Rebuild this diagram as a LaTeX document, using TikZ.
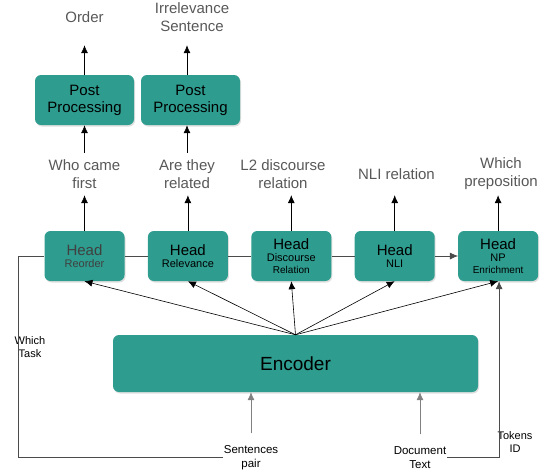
\documentclass[tikz,border=0pt]{standalone}
\usepackage{fontspec}
\setmainfont{Liberation Sans}
\usetikzlibrary{arrows.meta,shadows}
\definecolor{boxteal}{RGB}{46,156,142}
\definecolor{labelgray}{RGB}{88,88,88}
\definecolor{linegray}{RGB}{75,75,75}
\newcommand{\headlbl}[1]{\fontsize{15}{16}\selectfont Head\\\fontsize{11}{13}\selectfont #1}
\begin{document}
\begin{tikzpicture}[x=1pt,y=1pt,
  box/.style={shape=rectangle,rounded corners=6pt,fill=boxteal,drop shadow={shadow xshift=1pt,shadow yshift=-1.5pt,opacity=0.25}},
  head/.style={box,minimum width=80pt,minimum height=50pt,align=center,inner sep=1pt},
  post/.style={box,minimum width=99pt,minimum height=50pt,align=center,font=\fontsize{15}{17}\selectfont},
  outlbl/.style={text=labelgray,align=center,font=\fontsize{15}{18}\selectfont,minimum height=42pt,inner sep=0pt},
  toplbl/.style={outlbl,minimum height=56pt},
  small/.style={align=center,font=\fontsize{11.5}{14}\selectfont,inner sep=1pt},
  arr/.style={line width=0.6pt,-{Latex[length=8pt,width=7pt]}},
  garr/.style={arr,draw=gray,fill=gray},
  busline/.style={draw=linegray,line width=0.6pt}]
\def\hx{84.5};
\def\dx{103.4};
\def\yh{-256};
\def\yo{-174};
\def\yp{-100};
\def\yt{-17};
\def\yb{-457.5};

\useasboundingbox (0,0) rectangle (546,-472);

\node[head,text=black!75] (reorder) at (\hx,\yh) {\headlbl{Reorder}};
\node[head] (relev) at (\hx+\dx,\yh) {\headlbl{Relevance}};
\node[head] (disc) at (\hx+2*\dx,\yh) {\headlbl{Discourse\\Relation}};
\node[head] (nli) at (\hx+3*\dx,\yh) {\headlbl{NLI}};
\node[head] (np) at (\hx+4*\dx,\yh) {\headlbl{NP\\Enrichment}};

\node[box,minimum width=365pt,minimum height=57pt,font=\fontsize{19}{22}\selectfont] (enc) at (295.5,-363.5) {Encoder};

\node[outlbl] (first) at (\hx,\yo) {Who came\\first};
\node[outlbl] (related) at (187,\yo) {Are they\\related};
\node[outlbl] (l2) at (283,\yo) {L2 discourse\\relation};
\node[outlbl] (nlirel) at (396.5,\yo) {NLI relation};
\node[outlbl] (prep) at (501,\yo) {Which\\preposition};

\node[post] (pp1) at (\hx,\yp) {Post\\Processing};
\node[post] (pp2) at (190.5,\yp) {Post\\Processing};

\node[toplbl] (order) at (\hx,\yt) {Order};
\node[toplbl] (irrel) at (192,\yt) {Irrelevance\\Sentence};

\node[small] (pair) at (251,\yb) {Sentences\\pair};
\node[small] (doc) at (420,\yb) {Document\\Text};
\node[small,font=\fontsize{11}{13}\selectfont] (task) at (30,-347) {Which\\Task};
\node[small,font=\fontsize{11}{13}\selectfont] (tok) at (515,-442) {Tokens\\ID};

\draw[arr] (reorder.north) -- (first.south);
\draw[arr] (relev.north) -- (relev.north |- related.south);
\draw[arr] (disc.north) -- (disc.north |- l2.south);
\draw[arr] (nli.north) -- (nli.north |- nlirel.south);
\draw[arr] (np.north) -- (np.north |- prep.south);

\draw[arr] (first.north) -- (pp1.south);
\draw[arr] (related.north) -- (related.north |- pp2.south);
\draw[arr] (pp1.north) -- (order.south);
\draw[arr] (related.north |- pp2.north) -- (related.north |- irrel.south);

\foreach \h in {reorder,relev,disc,nli,np}
  \draw[arr] (enc.north) -- (\h.south);

\coordinate (tl) at (18,\yh);
\draw[busline] (pair.west) -| (tl) -- (reorder.west);
\draw[busline] (reorder.east) -- (relev.west);
\draw[busline] (relev.east) -- (disc.west);
\draw[busline] (disc.east) -- (nli.west);
\draw[busline,arr] (nli.east) -- (np.west);
\draw[busline,arr] (doc.east) -| ([xshift=1pt]np.south);

\draw[garr] ([yshift=11pt]pair.north) -- (pair.north |- enc.south);
\draw[garr] ([yshift=11pt]doc.north) -- (doc.north |- enc.south);
\end{tikzpicture}
\end{document}
